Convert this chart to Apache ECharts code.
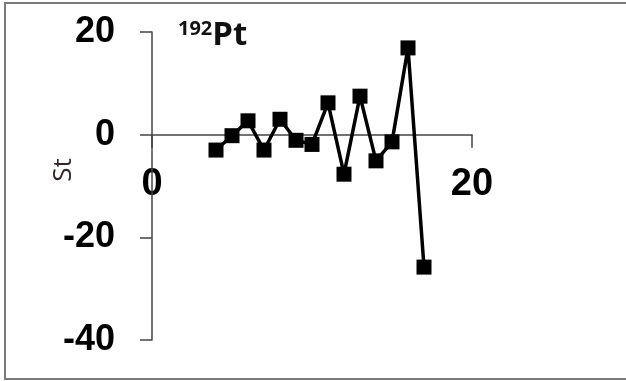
<!DOCTYPE html>
<html>
<head>
<meta charset="utf-8">
<script src="https://cdn.jsdelivr.net/npm/echarts@6/dist/echarts.min.js"></script>
<style>
html,body{margin:0;padding:0;background:#fff;}
#chart{width:626px;height:381px;}
</style>
</head>
<body>
<div id="chart"></div>
<script>
// Data
var xValues = [4, 5, 6, 7, 8, 9, 10, 11, 12, 13, 14, 15, 16, 17];
var stValues = [-3.0, -0.2, 2.7, -3.0, 3.0, -1.1, -1.9, 6.2, -7.7, 7.5, -5.1, -1.4, 16.9, -25.8];
var xTicks = [0, 20];
var yTicks = [-40, -20, 0, 20];
var titleSup = '192';
var titleMain = 'Pt';
var yTitle = 'St';

var seriesData = xValues.map(function (x, i) { return [x, stValues[i]]; });

var W = 626, H = 381;
var gridTop = 32, gridBottom = 41;
var yMin = yTicks[0], yMax = yTicks[yTicks.length - 1];
var plotH = H - gridTop - gridBottom;
// move the x axis (line, ticks, labels) up to the value 0 of the y scale
var xAxisOffset = -plotH * (0 - yMin) / (yMax - yMin);

var chart = echarts.init(document.getElementById('chart'), null, {renderer: 'canvas'});
chart.setOption({
  backgroundColor: '#ffffff',
  animation: false,
  title: {
    left: 173,
    top: 14,
    text: '{sup|' + titleSup + '}{main|' + titleMain + '}',
    textStyle: {
      rich: {
        sup: {fontFamily: 'Open Sans', fontWeight: 'bold', fontSize: 20, color: '#111', verticalAlign: 'top', padding: [0, 0, 14, 0]},
        main: {fontFamily: 'Open Sans', fontWeight: 'bold', fontSize: 33, color: '#111'}
      }
    }
  },
  graphic: [
    {
      type: 'rect', silent: true,
      shape: {x: 5, y: 3, width: 660, height: 376},
      style: {fill: 'none', stroke: '#7a7a7a', lineWidth: 2}
    },
    {
      type: 'text', silent: true,
      x: 64, y: 170, rotation: Math.PI / 2,
      style: {text: yTitle, fontFamily: 'Open Sans', fontSize: 26, fill: '#332626', align: 'center', verticalAlign: 'middle'}
    }
  ],
  grid: {left: 152, right: 154, top: gridTop, bottom: gridBottom, containLabel: false, outerBoundsMode: 'none'},
  xAxis: {
    type: 'value', min: xTicks[0], max: xTicks[xTicks.length - 1], interval: 20,
    position: 'bottom',
    offset: xAxisOffset,
    axisLine: {onZero: false, lineStyle: {color: '#444', width: 1.5}},
    axisTick: {show: true, length: 13, inside: false, lineStyle: {color: '#444', width: 1.5}},
    splitLine: {show: false},
    axisLabel: {margin: 31, fontFamily: 'Liberation Sans', fontWeight: 'bold', fontSize: 38, color: '#000'}
  },
  yAxis: {
    type: 'value', min: yMin, max: yMax, interval: 20,
    axisLine: {show: true, onZero: false, lineStyle: {color: '#444', width: 1.5}},
    axisTick: {show: true, length: 12, inside: false, lineStyle: {color: '#444', width: 1.5}},
    splitLine: {show: false},
    axisLabel: {margin: 37, fontFamily: 'Liberation Sans', fontWeight: 'bold', fontSize: 36, color: '#000'},
    z: 3
  },
  series: [{
    type: 'line',
    data: seriesData,
    symbol: 'rect',
    symbolSize: 15,
    lineStyle: {color: '#000', width: 3.5},
    itemStyle: {color: '#000'},
    z: 5
  }]
});
</script>
</body>
</html>
